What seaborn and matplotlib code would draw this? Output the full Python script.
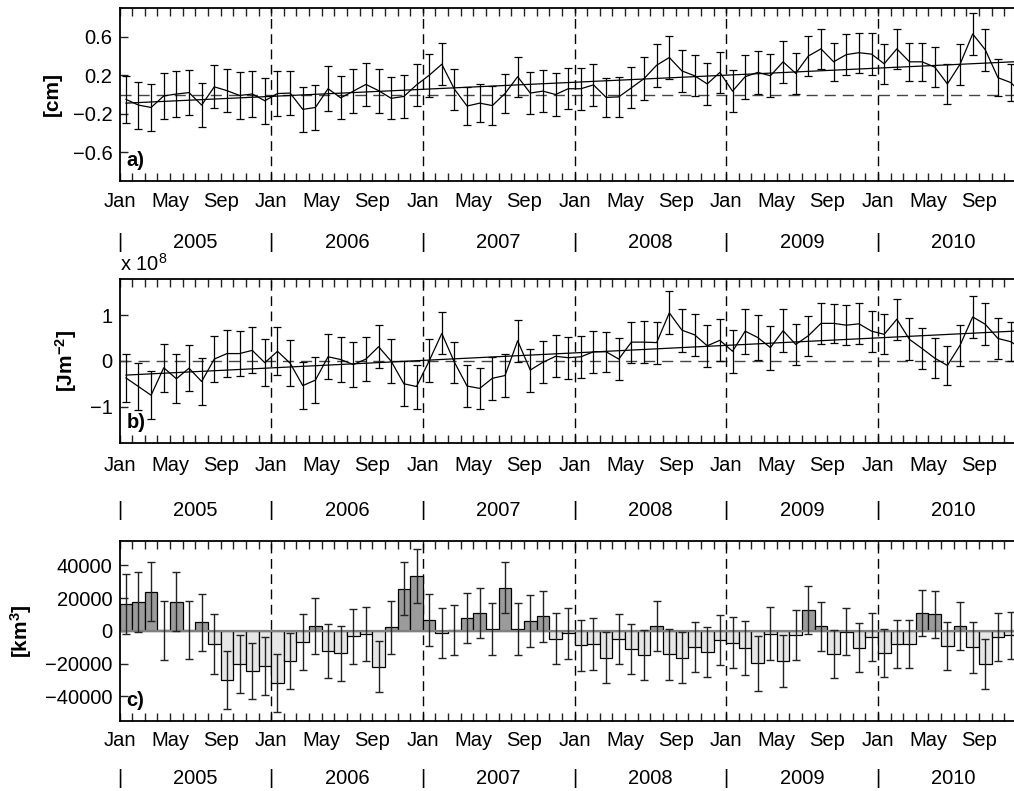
import matplotlib
matplotlib.use('Agg')
import matplotlib.pyplot as plt
import matplotlib.transforms as mtransforms
import numpy as np
import pandas as pd
import seaborn as sns

# monthly series Jan 2005 .. Dec 2010 (index 0..71)
years = [2005, 2006, 2007, 2008, 2009, 2010]
month_names = ['Jan', 'Feb', 'Mar', 'Apr', 'May', 'Jun',
               'Jul', 'Aug', 'Sep', 'Oct', 'Nov', 'Dec']
shown_months = ['Jan', 'May', 'Sep']

# a) sea level anomaly [cm]
a_vals = [-0.05, -0.11, -0.135, -0.015, 0.005, 0.02, -0.11, 0.08, 0.04, -0.01, 0.005, -0.065,
          0.01, 0.015, -0.155, -0.135, 0.06, -0.035, 0.035, 0.105, 0.04, -0.04, -0.02, 0.1,
          0.2, 0.315, 0.055, -0.12, -0.09, -0.115, 0.01, 0.185, 0.015, 0.035, 0.0, 0.06,
          0.06, 0.1, -0.03, -0.025, 0.07, 0.165, 0.305, 0.385, 0.245, 0.195, 0.11, 0.23,
          0.035, 0.185, 0.23, 0.195, 0.34, 0.22, 0.4, 0.475, 0.34, 0.415, 0.435, 0.42,
          0.32, 0.475, 0.34, 0.34, 0.285, 0.11, 0.315, 0.63, 0.465, 0.175, 0.125, 0.0]
a_err = [0.245, 0.245, 0.245, 0.24, 0.235, 0.23, 0.23, 0.225, 0.225, 0.245, 0.235, 0.24,
         0.235, 0.23, 0.23, 0.23, 0.235, 0.225, 0.23, 0.225, 0.23, 0.22, 0.22, 0.22,
         0.225, 0.22, 0.215, 0.2, 0.2, 0.2, 0.2, 0.21, 0.22, 0.215, 0.22, 0.215,
         0.22, 0.22, 0.205, 0.21, 0.215, 0.22, 0.225, 0.22, 0.22, 0.215, 0.22, 0.215,
         0.22, 0.23, 0.225, 0.225, 0.22, 0.215, 0.21, 0.21, 0.2, 0.21, 0.21, 0.215,
         0.21, 0.21, 0.2, 0.2, 0.21, 0.21, 0.215, 0.215, 0.22, 0.195, 0.19, 0.19]
a_trend = [-0.09, 0.345]

# b) heat content anomaly [x 1e8 J m^-2]
b_vals = [-0.37, -0.56, -0.75, -0.15, -0.39, -0.16, -0.45, 0.04, 0.16, 0.16, 0.23, -0.04,
          0.21, -0.05, -0.54, -0.42, 0.09, 0.03, -0.08, 0.04, 0.31, -0.01, -0.5, -0.56,
          0.0, 0.6, -0.03, -0.55, -0.6, -0.38, -0.32, 0.44, -0.2, -0.03, 0.1, 0.07,
          0.09, 0.2, 0.2, 0.04, 0.41, 0.41, 0.4, 1.05, 0.67, 0.57, 0.33, 0.45,
          0.21, 0.65, 0.51, 0.29, 0.66, 0.36, 0.55, 0.82, 0.82, 0.78, 0.81, 0.65,
          0.58, 0.91, 0.47, 0.27, 0.06, -0.1, 0.34, 0.96, 0.8, 0.49, 0.42, 0.25]
b_err = [0.53, 0.52, 0.53, 0.53, 0.53, 0.5, 0.52, 0.51, 0.52, 0.5, 0.5, 0.51,
         0.52, 0.5, 0.52, 0.5, 0.49, 0.5, 0.5, 0.48, 0.47, 0.48, 0.49, 0.48,
         0.47, 0.46, 0.45, 0.46, 0.45, 0.47, 0.46, 0.46, 0.47, 0.46, 0.46, 0.46,
         0.46, 0.46, 0.44, 0.45, 0.45, 0.46, 0.46, 0.47, 0.47, 0.46, 0.46, 0.46,
         0.47, 0.49, 0.5, 0.48, 0.47, 0.45, 0.44, 0.44, 0.43, 0.44, 0.45, 0.45,
         0.44, 0.45, 0.46, 0.44, 0.43, 0.43, 0.45, 0.46, 0.46, 0.44, 0.43, 0.43]
b_trend = [-0.31, 0.66]

# c) volume anomaly [km^3]
c_vals = [16300, 17750, 23900, 300, 17750, 700, 5100, -8200, -30000, -20400, -24500, -21600,
          -32000, -18400, -6900, 2900, -12300, -13800, -3300, -1900, -21800, 2200, 25700, 33500,
          6400, -1400, 600, 8000, 10800, 900, 26300, 1100, 5900, 9000, -4900, -1400,
          -8800, -8200, -16300, -4900, -11200, -14900, 3000, -14300, -16500, -10000, -12900, -5700,
          -7200, -10600, -19800, -1800, -18300, -2400, 12600, 2800, -14300, -400, -10200, -3700,
          -13700, -7900, -7800, 10800, 10200, -9500, 3000, -10100, -20100, -4000, -2700, -10300]
c_err = [18300, 18200, 18100, 17900, 17900, 17650, 17650, 18200, 17900, 17650, 17150, 17650,
         17650, 17050, 17050, 17150, 16650, 16750, 16750, 16200, 15800, 16300, 16100, 16400,
         15900, 15300, 15300, 15300, 15400, 15800, 15600, 15600, 15900, 15600, 15500, 15600,
         15600, 15800, 15400, 15200, 15300, 15300, 15500, 15400, 15500, 15400, 15300, 15300,
         15500, 16400, 16900, 16100, 15700, 15300, 14700, 14800, 14700, 14600, 14900, 14700,
         14600, 14800, 14700, 14100, 14400, 14600, 14600, 15400, 15400, 14600, 14400, 14400]

sns.set_style('ticks')
plt.rcParams['font.family'] = ['Liberation Sans', 'DejaVu Sans']
plt.rcParams['mathtext.default'] = 'regular'
plt.rcParams['text.color'] = 'black'
plt.rcParams['axes.labelcolor'] = 'black'
plt.rcParams['xtick.color'] = 'black'
plt.rcParams['ytick.color'] = 'black'
plt.rcParams['axes.edgecolor'] = 'black'
FS = 14.5

W, H = 1014, 791
fig = plt.figure(figsize=(W / 100, H / 100), dpi=100)

n = len(a_vals)
mid = np.arange(n) + 0.5
x_right = 70.77
left = 119.5 / W
width = 1 - left


def px_axes(top, bottom):
    return [left, 1 - bottom / H, width, (bottom - top) / H]


def style_axis(ax, yticks, ylim, ylabel, tag, month_pad, year_y):
    ax.set_xlim(0, x_right)
    ax.set_ylim(*ylim)
    ticks = np.arange(0, 71)
    ax.set_xticks(ticks)
    ax.set_xticklabels([month_names[t % 12] if month_names[t % 12] in shown_months else ''
                        for t in ticks])
    ax.set_yticks(yticks)
    ax.tick_params(axis='x', direction='in', top=True, bottom=True, length=6, width=1,
                   labelsize=FS, pad=month_pad, color='#222222', labelcolor='black')
    ax.tick_params(axis='y', direction='in', left=True, right=False, length=6, width=1,
                   labelsize=FS, pad=5, color='#222222', labelcolor='black')
    ax.spines['right'].set_visible(False)
    for s in ['top', 'left', 'bottom']:
        ax.spines[s].set_linewidth(1.3)
        ax.spines[s].set_color('black')
    ax.set_xlabel('')
    ax.set_ylabel(ylabel, fontsize=15, fontweight='bold', labelpad=8, color='black')
    for yr in range(12, 61, 12):
        ax.axvline(yr, color='black', lw=1, ls=(0, (7, 4)), zorder=1)
    ax.annotate(tag, xy=(0, 0), xycoords='axes fraction', xytext=(5, 15),
                textcoords='offset points', fontsize=FS, fontweight='bold',
                ha='left', va='center', color='black')
    tr = mtransforms.blended_transform_factory(ax.transData, fig.transFigure)
    yf = 1 - year_y / H
    for i, yr in enumerate(years):
        ax.text(12 * i, yf, '|', transform=tr, ha='center', va='center',
                fontsize=FS, clip_on=False, color='black')
        ax.text(12 * i + 6, yf, str(yr), transform=tr, ha='center', va='center',
                fontsize=FS, clip_on=False, color='black')


def line_panel(ax, vals, err, trend):
    ax.axhline(0, color='#444444', lw=1, ls=(0, (8, 5)), zorder=1)
    ax.errorbar(mid, vals, yerr=err, fmt='none', ecolor='black', elinewidth=0.9,
                capsize=3.2, capthick=0.9, zorder=3)
    sns.lineplot(x=mid, y=vals, ax=ax, color='black', linewidth=0.9, zorder=4)
    sns.lineplot(x=[mid[0], mid[-1]], y=trend, ax=ax, color='black', linewidth=0.9, zorder=4)


# panel a
ax_a = fig.add_axes(px_axes(8, 181))
line_panel(ax_a, a_vals, a_err, a_trend)
style_axis(ax_a, [-0.6, -0.2, 0.2, 0.6], (-0.9, 0.9), '[cm]', 'a)', 8, 242.7)

# panel b
ax_b = fig.add_axes(px_axes(278.5, 443.3))
line_panel(ax_b, b_vals, b_err, b_trend)
style_axis(ax_b, [-1, 0, 1], (-1.8, 1.8), '[Jm$^{-2}$]', 'b)', 9, 510)
ax_b.annotate('x 10$^{8}$', xy=(0, 1), xycoords='axes fraction', xytext=(0, 3),
              textcoords='offset points', fontsize=FS, ha='left', va='bottom',
              color='black')

# panel c
ax_c = fig.add_axes(px_axes(540.7, 721))
df_c = pd.DataFrame({'x': mid, 'v': c_vals})
df_c['sign'] = np.where(df_c['v'] >= 0, 'pos', 'neg')
sns.barplot(data=df_c, x='x', y='v', hue='sign', native_scale=True, dodge=False,
            width=1, palette={'pos': '#9b9b9b', 'neg': '#e6e6e6'},
            edgecolor='black', linewidth=0.9, errorbar=None, legend=False, ax=ax_c,
            zorder=2)
ax_c.axhline(0, color='#808080', lw=1.6, zorder=2.5)
ax_c.errorbar(mid, c_vals, yerr=c_err, fmt='none', ecolor='#222222', elinewidth=1,
              capsize=3.2, capthick=1, zorder=3)
style_axis(ax_c, [-40000, -20000, 0, 20000, 40000], (-55000, 55000), '[km$^3$]', 'c)',
           7, 779)

fig.savefig('out.png', dpi=100)
